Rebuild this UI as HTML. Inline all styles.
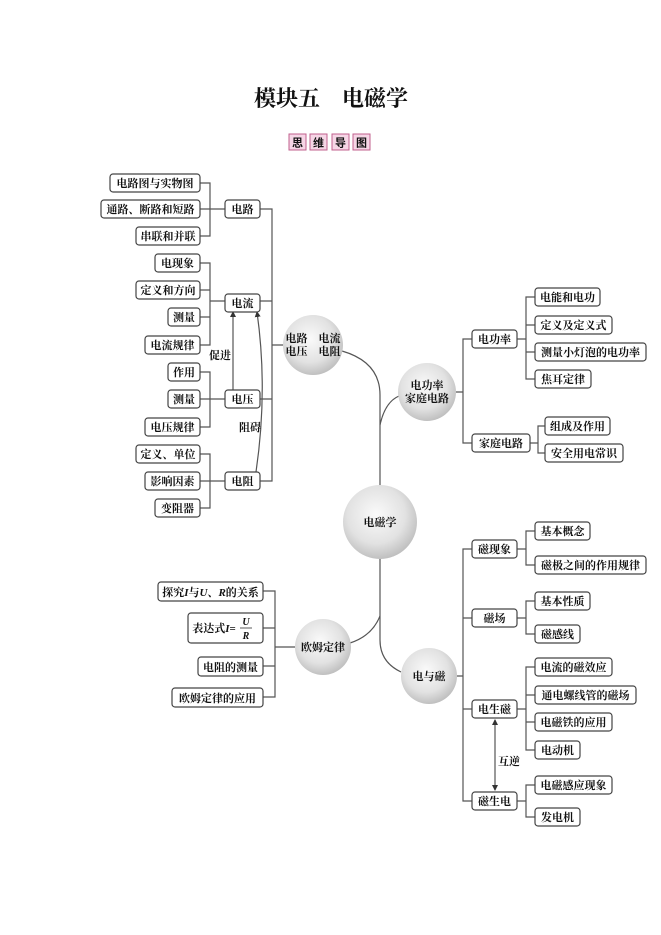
<!DOCTYPE html>
<html><head><meta charset="utf-8"><style>
html,body{margin:0;padding:0;background:#fff;}
svg{display:block;}
text{font-family:"Liberation Serif","Noto Serif CJK SC",serif;font-size:11px;fill:#111;font-weight:bold;}
.b{fill:#fff;stroke:#444;stroke-width:1.2;}
.l{fill:none;stroke:#555;stroke-width:1.2;}
</style></head><body>
<svg width="661" height="935" viewBox="0 0 661 935" xmlns="http://www.w3.org/2000/svg">
<defs>
<radialGradient id="g" cx="0.45" cy="0.4" r="0.65">
<stop offset="0" stop-color="#fafafa"/><stop offset="0.6" stop-color="#e2e2e2"/><stop offset="1" stop-color="#b8b8b8"/>
</radialGradient>
<marker id="ar" viewBox="0 0 6 6" refX="5" refY="3" markerWidth="5" markerHeight="5" orient="auto-start-reverse"><path d="M0,0 L6,3 L0,6z" fill="#333"/></marker>
</defs>
<text x="331" y="106" text-anchor="middle" style="font-size:22px;font-weight:bold" fill="#111">模块五　电磁学</text>
<g>
<rect x="289" y="134" width="17" height="16" fill="#f6d6e6" stroke="#c0608e"/>
<rect x="310" y="134" width="17" height="16" fill="#f6d6e6" stroke="#c0608e"/>
<rect x="332" y="134" width="17" height="16" fill="#f6d6e6" stroke="#c0608e"/>
<rect x="353" y="134" width="17" height="16" fill="#f6d6e6" stroke="#c0608e"/>
<text x="297.5" y="146.5" text-anchor="middle" style="font-size:11px;font-family:'Noto Sans CJK SC',sans-serif">思</text>
<text x="318.5" y="146.5" text-anchor="middle" style="font-size:11px;font-family:'Noto Sans CJK SC',sans-serif">维</text>
<text x="340.5" y="146.5" text-anchor="middle" style="font-size:11px;font-family:'Noto Sans CJK SC',sans-serif">导</text>
<text x="361.5" y="146.5" text-anchor="middle" style="font-size:11px;font-family:'Noto Sans CJK SC',sans-serif">图</text>
</g>

<path class="l" d="M200,183 H210 V236 H200 M200,209 H225"/>
<path class="l" d="M200,263 H210 V345 H200 M200,290 H210 M200,317 H210 M210,301 H225"/>
<path class="l" d="M200,372 H210 V427 H200 M200,399 H225"/>
<path class="l" d="M200,454 H210 V508 H200 M200,481 H225"/>
<path class="l" d="M260,209 H272 V481 H260 M260,301 H272 M260,399 H272 M272,345 H284"/>
<path class="l" d="M233,390 V312" marker-end="url(#ar)"/>
<path class="l" d="M256,472 Q268,390 257,312" marker-end="url(#ar)"/>
<text x="220" y="359" text-anchor="middle">促进</text>
<text x="250" y="431" text-anchor="middle">阻碍</text>

<g>
<rect class="b" x="110" y="174" width="90" height="18" rx="3"/><text x="155" y="187" text-anchor="middle">电路图与实物图</text>
<rect class="b" x="101" y="200" width="99" height="18" rx="3"/><text x="150.5" y="213" text-anchor="middle">通路、断路和短路</text>
<rect class="b" x="136" y="227" width="64" height="18" rx="3"/><text x="168" y="240" text-anchor="middle">串联和并联</text>
<rect class="b" x="155" y="254" width="45" height="18" rx="3"/><text x="177.5" y="267" text-anchor="middle">电现象</text>
<rect class="b" x="136" y="281" width="64" height="18" rx="3"/><text x="168" y="294" text-anchor="middle">定义和方向</text>
<rect class="b" x="168" y="308" width="32" height="18" rx="3"/><text x="184" y="321" text-anchor="middle">测量</text>
<rect class="b" x="145" y="336" width="55" height="18" rx="3"/><text x="172.5" y="349" text-anchor="middle">电流规律</text>
<rect class="b" x="168" y="363" width="32" height="18" rx="3"/><text x="184" y="376" text-anchor="middle">作用</text>
<rect class="b" x="168" y="390" width="32" height="18" rx="3"/><text x="184" y="403" text-anchor="middle">测量</text>
<rect class="b" x="145" y="418" width="55" height="18" rx="3"/><text x="172.5" y="431" text-anchor="middle">电压规律</text>
<rect class="b" x="136" y="445" width="64" height="18" rx="3"/><text x="168" y="458" text-anchor="middle">定义、单位</text>
<rect class="b" x="145" y="472" width="55" height="18" rx="3"/><text x="172.5" y="485" text-anchor="middle">影响因素</text>
<rect class="b" x="155" y="499" width="45" height="18" rx="3"/><text x="177.5" y="512" text-anchor="middle">变阻器</text>
<rect class="b" x="225" y="200" width="35" height="18" rx="3"/><text x="242.5" y="213" text-anchor="middle">电路</text>
<rect class="b" x="225" y="294" width="35" height="18" rx="3"/><text x="242.5" y="307" text-anchor="middle">电流</text>
<rect class="b" x="225" y="390" width="35" height="18" rx="3"/><text x="242.5" y="403" text-anchor="middle">电压</text>
<rect class="b" x="225" y="472" width="35" height="18" rx="3"/><text x="242.5" y="485" text-anchor="middle">电阻</text>
</g>

<path class="l" d="M342,351 Q380,362 380,395 V640 Q380,662 401,672"/>
<path class="l" d="M380,425 Q385,402 399,396"/>
<path class="l" d="M380,616 Q372,636 350,643"/>

<circle cx="313" cy="345" r="30" fill="url(#g)"/>
<text x="313" y="342" text-anchor="middle">电路　电流</text>
<text x="313" y="355" text-anchor="middle">电压　电阻</text>
<circle cx="427" cy="392" r="29" fill="url(#g)"/>
<text x="427" y="389" text-anchor="middle">电功率</text>
<text x="427" y="402" text-anchor="middle">家庭电路</text>
<circle cx="380" cy="522" r="37" fill="url(#g)"/>
<text x="380" y="526" text-anchor="middle">电磁学</text>
<circle cx="323" cy="647" r="28" fill="url(#g)"/>
<text x="323" y="651" text-anchor="middle">欧姆定律</text>
<circle cx="429" cy="676" r="28" fill="url(#g)"/>
<text x="429" y="680" text-anchor="middle">电与磁</text>

<path class="l" d="M456,392 H463 M472,339 H463 V443 H472"/>
<path class="l" d="M517,339 H526 M535,297 H526 V379 H535 M535,325 H526 M535,352 H526"/>
<path class="l" d="M530,443 H538 M545,426 H538 V453 H545"/>
<g>
<rect class="b" x="472" y="330" width="45" height="18" rx="3"/><text x="494.5" y="343" text-anchor="middle">电功率</text>
<rect class="b" x="472" y="434" width="58" height="18" rx="3"/><text x="501" y="447" text-anchor="middle">家庭电路</text>
<rect class="b" x="535" y="288" width="65" height="18" rx="3"/><text x="567.5" y="301" text-anchor="middle">电能和电功</text>
<rect class="b" x="535" y="316" width="77" height="18" rx="3"/><text x="573.5" y="329" text-anchor="middle">定义及定义式</text>
<rect class="b" x="535" y="343" width="111" height="18" rx="3"/><text x="590.5" y="356" text-anchor="middle">测量小灯泡的电功率</text>
<rect class="b" x="535" y="370" width="56" height="18" rx="3"/><text x="563" y="383" text-anchor="middle">焦耳定律</text>
<rect class="b" x="545" y="417" width="65" height="18" rx="3"/><text x="577.5" y="430" text-anchor="middle">组成及作用</text>
<rect class="b" x="545" y="444" width="78" height="18" rx="3"/><text x="584" y="457" text-anchor="middle">安全用电常识</text>
</g>

<path class="l" d="M263,591 H275 V697 H263 M263,628 H275 M263,666 H275 M275,647 H295"/>
<g>
<rect class="b" x="158" y="582" width="105" height="19" rx="3"/><text x="210.5" y="596" text-anchor="middle">探究<tspan font-style="italic">I</tspan>与<tspan font-style="italic">U</tspan>、<tspan font-style="italic">R</tspan>的关系</text>
<rect class="b" x="188" y="613" width="75" height="30" rx="3"/><text x="214" y="632" text-anchor="middle">表达式<tspan font-style="italic">I</tspan>=</text>
<line x1="240" y1="628" x2="252" y2="628" stroke="#333" stroke-width="0.8"/>
<text x="246" y="625" text-anchor="middle" font-style="italic" style="font-size:10px">U</text>
<text x="246" y="639" text-anchor="middle" font-style="italic" style="font-size:10px">R</text>
<rect class="b" x="198" y="657" width="65" height="19" rx="3"/><text x="230.5" y="671" text-anchor="middle">电阻的测量</text>
<rect class="b" x="172" y="688" width="91" height="19" rx="3"/><text x="217.5" y="702" text-anchor="middle">欧姆定律的应用</text>
</g>

<path class="l" d="M457,676 H463 M472,549 H463 V801 H472 M472,618 H463 M472,709 H463"/>
<path class="l" d="M517,549 H526 M535,531 H526 V565 H535"/>
<path class="l" d="M517,618 H526 M535,601 H526 V634 H535"/>
<path class="l" d="M517,709 H526 M535,667 H526 V750 H535 M535,695 H526 M535,722 H526"/>
<path class="l" d="M517,801 H526 M535,785 H526 V817 H535"/>
<path class="l" d="M495,720 V790" marker-start="url(#ar)" marker-end="url(#ar)"/>
<text x="509" y="765" text-anchor="middle">互逆</text>
<g>
<rect class="b" x="472" y="540" width="45" height="18" rx="3"/><text x="494.5" y="553" text-anchor="middle">磁现象</text>
<rect class="b" x="472" y="609" width="45" height="18" rx="3"/><text x="494.5" y="622" text-anchor="middle">磁场</text>
<rect class="b" x="472" y="700" width="45" height="18" rx="3"/><text x="494.5" y="713" text-anchor="middle">电生磁</text>
<rect class="b" x="472" y="792" width="45" height="18" rx="3"/><text x="494.5" y="805" text-anchor="middle">磁生电</text>
<rect class="b" x="535" y="522" width="55" height="18" rx="3"/><text x="562.5" y="535" text-anchor="middle">基本概念</text>
<rect class="b" x="535" y="556" width="111" height="18" rx="3"/><text x="590.5" y="569" text-anchor="middle">磁极之间的作用规律</text>
<rect class="b" x="535" y="592" width="55" height="18" rx="3"/><text x="562.5" y="605" text-anchor="middle">基本性质</text>
<rect class="b" x="535" y="625" width="45" height="18" rx="3"/><text x="557.5" y="638" text-anchor="middle">磁感线</text>
<rect class="b" x="535" y="658" width="77" height="18" rx="3"/><text x="573.5" y="671" text-anchor="middle">电流的磁效应</text>
<rect class="b" x="535" y="686" width="101" height="18" rx="3"/><text x="585.5" y="699" text-anchor="middle">通电螺线管的磁场</text>
<rect class="b" x="535" y="713" width="77" height="18" rx="3"/><text x="573.5" y="726" text-anchor="middle">电磁铁的应用</text>
<rect class="b" x="535" y="741" width="45" height="18" rx="3"/><text x="557.5" y="754" text-anchor="middle">电动机</text>
<rect class="b" x="535" y="776" width="77" height="18" rx="3"/><text x="573.5" y="789" text-anchor="middle">电磁感应现象</text>
<rect class="b" x="535" y="808" width="45" height="18" rx="3"/><text x="557.5" y="821" text-anchor="middle">发电机</text>
</g>
</svg>
</body></html>
